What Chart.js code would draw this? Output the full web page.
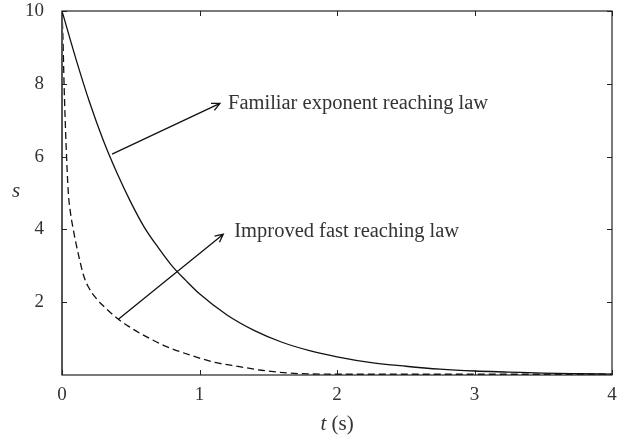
<!DOCTYPE html>
<html>
  <head>
    <style>
      body { margin: 0; background: #fff; }
    </style>
  </head>
  <body>
    <canvas id="chart" width="632" height="439"></canvas>
    <script src="https://cdn.jsdelivr.net/npm/chart.js"></script>
    <script>
      // values
      const solidT = [0, 0.1, 0.2, 0.3, 0.4, 0.5, 0.6, 0.7, 0.8, 0.9, 1.0, 1.2, 1.4, 1.6, 1.8, 2.0, 2.25, 2.5, 2.75, 3.0, 3.25, 3.5, 3.75, 4.0];
      const solidS = [10, 8.7, 7.5, 6.45, 5.55, 4.75, 4.05, 3.5, 3.0, 2.6, 2.23, 1.65, 1.22, 0.9, 0.67, 0.5, 0.34, 0.24, 0.16, 0.11, 0.08, 0.05, 0.035, 0.025];

      const dashT = [0, 0.007, 0.015, 0.03, 0.046, 0.06, 0.082, 0.12, 0.16, 0.19, 0.25, 0.3, 0.41, 0.5, 0.57, 0.65, 0.76, 0.93, 1.12, 1.29, 1.45, 1.66, 1.8, 2.0, 2.5, 3.0, 3.5, 4.0];
      const dashS = [10, 9.25, 8, 6.3, 5.0, 4.5, 4.0, 3.3, 2.7, 2.43, 2.1, 1.9, 1.53, 1.3, 1.14, 0.98, 0.78, 0.55, 0.34, 0.23, 0.13, 0.05, 0.03, 0.02, 0.02, 0.02, 0.02, 0.02];

      const xTicks = [0, 1, 2, 3, 4];
      const yTicks = [2, 4, 6, 8, 10];

      // annotations: [startT, startS, endT, endS]
      const arrowFamiliar = [0.364, 6.07, 1.149, 7.46];
      const arrowImproved = [0.41, 1.53, 1.173, 3.87];
      const labelFamiliar = "Familiar exponent reaching law";
      const labelImproved = "Improved fast reaching law";

      const serif = "'Liberation Serif', 'DejaVu Serif', serif";
      const textColor = "#333";

      function toPoints(xs, ys) {
        return xs.map(function (x, i) { return { x: x, y: ys[i] }; });
      }

      const framePlugin = {
        id: "frame",
        afterDraw: function (chart) {
          const ctx = chart.ctx;
          const a = chart.chartArea;
          const xs = chart.scales.x;
          const ys = chart.scales.y;
          ctx.save();

          // box
          ctx.strokeStyle = "#222";
          ctx.lineWidth = 1.2;
          ctx.strokeRect(a.left, a.top, a.right - a.left, a.bottom - a.top);
          ctx.strokeStyle = "#555";
          ctx.lineWidth = 2;
          ctx.beginPath();
          ctx.moveTo(a.left, a.top);
          ctx.lineTo(a.left, a.bottom);
          ctx.stroke();

          // inward ticks on all sides
          ctx.strokeStyle = "#222";
          ctx.lineWidth = 1;
          ctx.beginPath();
          xTicks.forEach(function (v) {
            const px = Math.round(xs.getPixelForValue(v)) + 0.5;
            ctx.moveTo(px, a.bottom); ctx.lineTo(px, a.bottom - 5);
            ctx.moveTo(px, a.top); ctx.lineTo(px, a.top + 5);
          });
          yTicks.forEach(function (v) {
            const py = Math.round(ys.getPixelForValue(v)) + 0.5;
            ctx.moveTo(a.left, py); ctx.lineTo(a.left + 5, py);
            ctx.moveTo(a.right, py); ctx.lineTo(a.right - 5, py);
          });
          ctx.stroke();

          // arrows
          function arrow(p) {
            const x1 = xs.getPixelForValue(p[0]), y1 = ys.getPixelForValue(p[1]);
            const x2 = xs.getPixelForValue(p[2]), y2 = ys.getPixelForValue(p[3]);
            const ang = Math.atan2(y2 - y1, x2 - x1);
            const h = 9;
            ctx.strokeStyle = "#111";
            ctx.lineWidth = 1.3;
            ctx.beginPath();
            ctx.moveTo(x1, y1); ctx.lineTo(x2, y2);
            ctx.moveTo(x2 - h * Math.cos(ang - 0.45), y2 - h * Math.sin(ang - 0.45));
            ctx.lineTo(x2, y2);
            ctx.lineTo(x2 - h * Math.cos(ang + 0.45), y2 - h * Math.sin(ang + 0.45));
            ctx.stroke();
            return [x2, y2];
          }
          ctx.font = "20.5px " + serif;
          ctx.fillStyle = textColor;
          ctx.textBaseline = "middle";
          ctx.textAlign = "left";
          const e1 = arrow(arrowFamiliar);
          ctx.fillText(labelFamiliar, e1[0] + 8, e1[1]);
          const e2 = arrow(arrowImproved);
          ctx.fillText(labelImproved, e2[0] + 11, e2[1] - 3);

          // axis titles
          ctx.font = "italic 21px " + serif;
          ctx.textAlign = "center";
          ctx.fillText("s", 16, 191);
          const tx = (a.left + a.right) / 2;
          ctx.textAlign = "left";
          const tw = ctx.measureText("t ").width;
          ctx.font = "21px " + serif;
          const sw = ctx.measureText("(s)").width;
          const startX = tx - (tw + sw) / 2;
          ctx.font = "italic 21px " + serif;
          ctx.fillText("t ", startX, 424);
          ctx.font = "21px " + serif;
          ctx.fillText("(s)", startX + tw, 424);
          ctx.restore();
        }
      };

      new Chart(document.getElementById("chart"), {
        type: "scatter",
        data: {
          datasets: [
            {
              data: toPoints(solidT, solidS),
              showLine: true,
              borderColor: "#111",
              borderWidth: 1.3,
              pointRadius: 0,
              cubicInterpolationMode: "monotone"
            },
            {
              data: toPoints(dashT, dashS),
              showLine: true,
              borderColor: "#111",
              borderWidth: 1.3,
              borderDash: [7, 4],
              pointRadius: 0,
              cubicInterpolationMode: "monotone"
            }
          ]
        },
        options: {
          responsive: false,
          animation: false,
          devicePixelRatio: 1,
          layout: { padding: { top: 11, right: 20, left: 0, bottom: 0 } },
          plugins: { legend: { display: false }, tooltip: { enabled: false } },
          scales: {
            x: {
              type: "linear",
              min: 0,
              max: 4,
              grid: { display: false },
              border: { display: false },
              afterBuildTicks: function (scale) {
                scale.ticks = xTicks.map(function (v) { return { value: v }; });
              },
              afterFit: function (scale) {
                scale.height = 64;
                scale.paddingLeft = 0;
                scale.paddingRight = 0;
              },
              ticks: {
                padding: 1,
                color: textColor,
                font: { family: serif, size: 19 },
                maxRotation: 0
              }
            },
            y: {
              type: "linear",
              min: 0,
              max: 10,
              grid: { display: false },
              border: { display: false },
              afterBuildTicks: function (scale) {
                scale.ticks = yTicks.map(function (v) { return { value: v }; });
              },
              afterFit: function (scale) {
                scale.width = 62;
                scale.paddingTop = 0;
                scale.paddingBottom = 0;
              },
              ticks: {
                padding: 10,
                color: textColor,
                font: { family: serif, size: 19 }
              }
            }
          }
        },
        plugins: [framePlugin]
      });
    </script>
  </body>
</html>
